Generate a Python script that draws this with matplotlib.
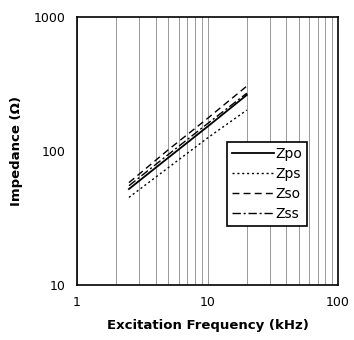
import matplotlib
matplotlib.use("Agg")
import matplotlib.pyplot as plt
from matplotlib.ticker import FixedLocator, NullFormatter, FixedFormatter

# readings
freq = [2.5, 5, 10, 20]
zpo = [52, 89, 152, 262]
zps = [45, 75, 125, 202]
zso = [58, 102, 175, 305]
zss = [55, 94, 160, 270]

plt.rcParams['font.family'] = ['DejaVu Sans']

fig = plt.figure(figsize=(3.54, 3.40), dpi=100)
ax = fig.add_axes([0.2175, 0.162, 0.7375, 0.788])

ax.plot(freq, zpo, color='black', lw=1.3, ls='-', label='Zpo')
ax.plot(freq, zps, color='black', lw=1.0, ls=(0, (1.5, 2)), label='Zps')
ax.plot(freq, zso, color='black', lw=1.0, ls=(0, (5, 3)), label='Zso')
ax.plot(freq, zss, color='black', lw=1.0, ls=(0, (6, 2, 1.5, 2)), label='Zss')

ax.set_xscale('log')
ax.set_yscale('log')
ax.set_xlim(1, 100)
ax.set_ylim(10, 1000)

ax.xaxis.set_major_locator(FixedLocator([1, 10, 100]))
ax.xaxis.set_major_formatter(FixedFormatter(['1', '10', '100']))
ax.xaxis.set_minor_locator(FixedLocator([2, 3, 4, 5, 6, 7, 8, 9, 20, 30, 40, 50, 60, 70, 80, 90]))
ax.xaxis.set_minor_formatter(NullFormatter())
ax.yaxis.set_major_locator(FixedLocator([10, 100, 1000]))
ax.yaxis.set_major_formatter(FixedFormatter(['10', '100', '1000']))
ax.yaxis.set_minor_locator(FixedLocator([]))

ax.grid(True, which='both', axis='x', color='#999999', lw=0.7)
ax.tick_params(which='both', length=0, labelsize=9, pad=8)

for s in ax.spines.values():
    s.set_linewidth(1.2)

ax.set_xlabel('Excitation Frequency (kHz)', fontsize=9.5, fontweight='bold', labelpad=7)
ax.set_ylabel('Impedance (Ω)', fontsize=9.5, fontweight='bold', labelpad=8)

leg = ax.legend(loc='center right', bbox_to_anchor=(0.881, 0.377), fontsize=10,
                frameon=True, fancybox=False, edgecolor='black', framealpha=1,
                handlelength=3.0, handletextpad=0.1, borderpad=0.35, labelspacing=0.45,
                borderaxespad=0)
leg.get_frame().set_linewidth(1.2)

fig.savefig('out.png', dpi=100)
